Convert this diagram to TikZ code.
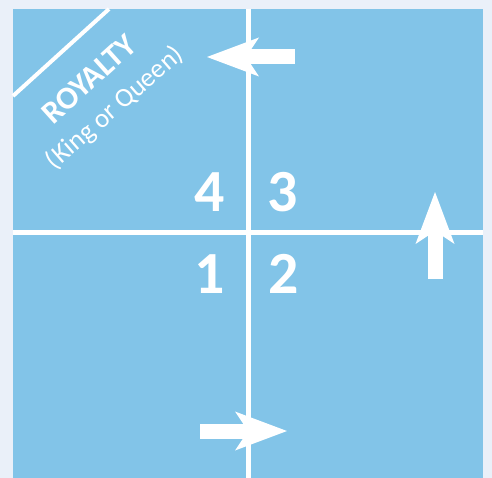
\documentclass[tikz,border=0pt]{standalone}
\usepackage{fontspec}
\setmainfont{Carlito}
\usetikzlibrary{arrows.meta}
\definecolor{Cielo}{HTML}{82C4E8}
\definecolor{FondoPagina}{HTML}{EAF0F9}

\begin{document}
\begin{tikzpicture}[x=1bp,y=-1bp,
    eje/.style={white,line width=5bp},
    cifra/.style={text=white,inner sep=0pt,font=\fontsize{60}{60}\selectfont\bfseries},
    flecha/.style={white,line width=15bp,-{Stealth[length=52bp,width=39bp,inset=13bp,line width=0pt]}}]
        \fill[FondoPagina] (0,0) rectangle (492,478);
        \fill[Cielo] (13,9) rectangle (483,478);
        \useasboundingbox (0,0) rectangle (492,478);
        % ejes
        \coordinate (arriba) at (248,9);
        \coordinate (abajo) at (248,478);
        \coordinate (izq) at (13,232);
        \coordinate (der) at (483,232);
        \draw[eje] (arriba) -- (abajo);
        \draw[eje] (izq) -- (der);
        % esquina
        \coordinate (cortaA) at (13,96);
        \coordinate (cortaB) at (109,9);
        \draw[white,line width=4bp] (cortaA) -- (cortaB);
        \node[rotate=42,text=white,inner sep=0pt,font=\fontsize{32}{32}\selectfont\bfseries] (royalty) at (89,79) {ROYALTY};
        \node[rotate=41,text=white,inner sep=0pt,font=\fontsize{27}{27}\selectfont] (rey) at (115,108) {(King or Queen)};
        % cuadrantes
        \node[cifra] (cuatro) at (210,192) {4};
        \node[cifra] (tres) at (283,192) {3};
        \node[cifra] (uno) at (210,274) {1};
        \node[cifra] (dos) at (284,274) {2};
        % flechas
        \coordinate (colaSup) at (295,57);
        \coordinate (puntaSup) at (207,57);
        \coordinate (colaDer) at (435,279);
        \coordinate (puntaDer) at (435,192);
        \coordinate (colaInf) at (200,431);
        \coordinate (puntaInf) at (287,431);
        \draw[flecha] (colaSup) -- (puntaSup);
        \draw[flecha] (colaDer) -- (puntaDer);
        \draw[flecha] (colaInf) -- (puntaInf);
      \end{tikzpicture}
\end{document}
